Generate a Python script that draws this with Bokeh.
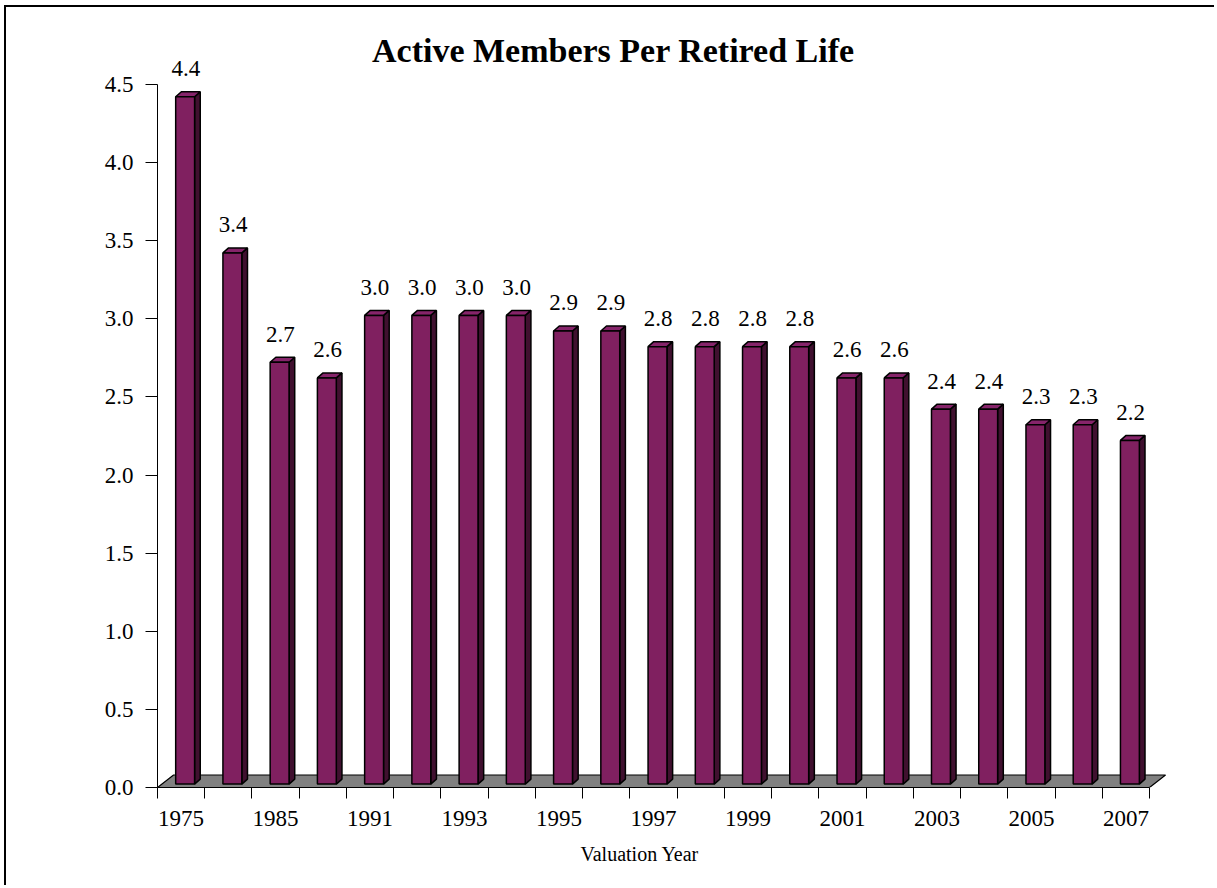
import numpy as np
from bokeh.plotting import figure
from bokeh.models import FixedTicker, Label, ColumnDataSource, PrintfTickFormatter, Title
from bokeh.core.properties import value
from bokeh.embed import file_html
from bokeh.resources import INLINE

# ---------------- data ----------------
years = ["1975", "1980", "1985", "1990", "1991", "1992", "1993", "1994", "1995",
         "1996", "1997", "1998", "1999", "2000", "2001", "2002", "2003", "2004",
         "2005", "2006", "2007"]
ratios = [4.4, 3.4, 2.7, 2.6, 3.0, 3.0, 3.0, 3.0, 2.9, 2.9, 2.8, 2.8, 2.8, 2.8,
          2.6, 2.6, 2.4, 2.4, 2.3, 2.3, 2.2]
y_ticks = [0.0, 0.5, 1.0, 1.5, 2.0, 2.5, 3.0, 3.5, 4.0, 4.5]
chart_title = "Active Members Per Retired Life"
x_title = "Valuation Year"

# ---------------- style constants ----------------
FONT = "Liberation Serif"
FRONT = "#802060"
SIDE = "#40102f"
TOP = "#86246a"
FLOOR = "#808080"

n = len(years)
vals = np.array(ratios)
centers = np.arange(n) + 0.5

# pseudo-3D geometry (data units)
bar_w = 0.40
bar_off = 0.085
base = 0.022
ddx, ddy = 0.12, 0.032          # bar depth
fdx, fdy = 0.34, 0.08           # floor depth

p = figure(width=1210, height=880, output_backend="svg", toolbar_location=None,
           x_range=(0, 21.868), y_range=(0, 4.8585),
           min_border_left=151, min_border_right=26, min_border_top=21,
           min_border_bottom=100,
           styles={"margin-left": "4px", "margin-top": "5px",
                   "border-left": "2px solid black", "border-top": "2px solid black"})
p.outline_line_color = None
p.xgrid.visible = False
p.ygrid.visible = False
p.background_fill_color = "white"
p.border_fill_color = "white"

# floor
p.patch([0, n, n + fdx, fdx], [0, 0, fdy, fdy], fill_color=FLOOR,
        line_color="black", line_width=1.2)

left = centers + bar_off - bar_w / 2
right = left + bar_w
top = vals + base
bottom = np.full(n, base)

side_xs = [[r, r + ddx, r + ddx, r] for r in right]
side_ys = [[b, b + ddy, t + ddy, t] for b, t in zip(bottom, top)]
top_xs = [[l, l + ddx, r + ddx, r] for l, r in zip(left, right)]
top_ys = [[t, t + ddy, t + ddy, t] for t in top]

p.patches(side_xs, side_ys, fill_color=SIDE, line_color="black", line_width=1.5)
p.patches(top_xs, top_ys, fill_color=TOP, line_color="black", line_width=1.5)
p.quad(left=left, right=right, bottom=bottom, top=top, fill_color=FRONT,
       line_color="black", line_width=1.5)

# value labels
lab_src = ColumnDataSource(dict(x=centers + 0.1, y=top + 0.18,
                                t=[f"{v:.1f}" for v in ratios]))
p.text(x="x", y="y", text="t", source=lab_src, text_align="center",
       text_baseline="alphabetic", text_font=value(FONT),
       text_font_size="23px", text_color="black")

# axes
xa = p.xaxis[0]
xa.bounds = (0, n)
xa.ticker = FixedTicker(ticks=list(centers[::2]), minor_ticks=list(range(n + 1)))
xa.major_label_overrides = {float(c): years[i] for i, c in enumerate(centers) if i % 2 == 0}
xa.major_tick_line_color = None
xa.major_tick_out = 11
xa.minor_tick_in = 0
xa.minor_tick_out = 11
xa.minor_tick_line_color = "black"
xa.axis_line_color = "black"
xa.major_label_text_font = FONT
xa.major_label_text_font_size = "23px"
xa.major_label_text_color = "black"
xa.major_label_standoff = 12

ya = p.yaxis[0]
ya.bounds = (0, 4.5)
ya.ticker = FixedTicker(ticks=y_ticks, minor_ticks=[])
ya.formatter = PrintfTickFormatter(format="%.1f")
ya.major_tick_in = 0
ya.major_tick_out = 12
ya.major_tick_line_color = "black"
ya.axis_line_color = "black"
ya.major_label_text_font = FONT
ya.major_label_text_font_size = "23px"
ya.major_label_text_color = "black"
ya.major_label_standoff = 12

# chart title (inside the frame, above the bars)
p.add_layout(Label(x=9.65, y=4.716, text=chart_title, text_align="center",
                   text_baseline="alphabetic", text_font=FONT,
                   text_font_size="34px", text_font_style="bold", text_color="black"))
# x axis title
p.add_layout(Title(text=x_title, align="left", offset=423, standoff=25,
                   text_font=FONT, text_font_size="20px", text_font_style="normal",
                   text_color="black"), "below")

open("out.html", "w").write(file_html(p, INLINE))
